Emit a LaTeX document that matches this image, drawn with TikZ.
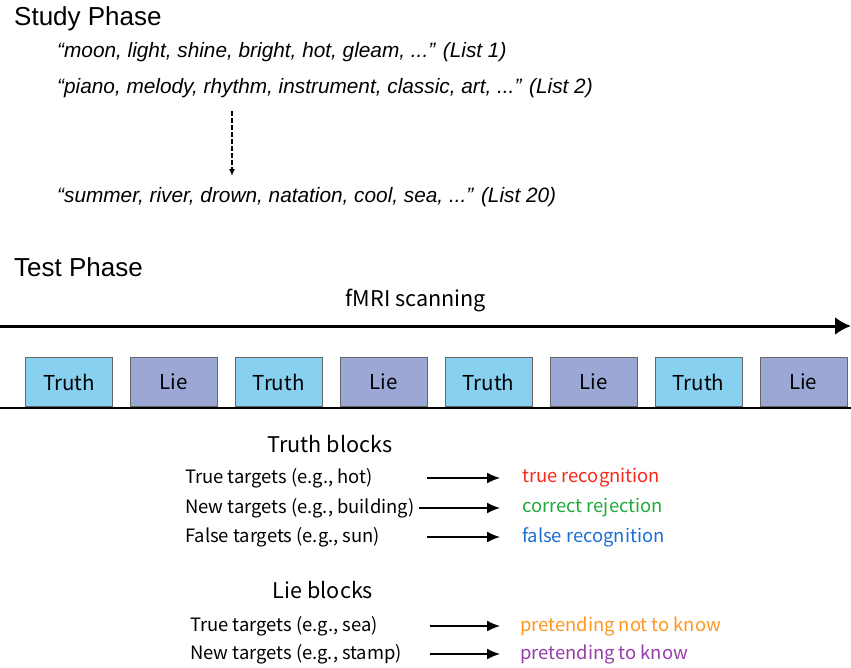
\documentclass[tikz,border=0pt]{standalone}
\usepackage{fontspec}
\setmainfont{Liberation Sans}
\newfontfamily\jpfont{Noto Sans CJK JP}
\usetikzlibrary{arrows.meta,positioning,matrix}
\definecolor{truthblue}{RGB}{135,208,240}
\definecolor{lieblue}{RGB}{155,168,214}
\definecolor{rtrue}{RGB}{250,40,25}
\definecolor{rcorrect}{RGB}{30,170,60}
\definecolor{rfalse}{RGB}{25,110,210}
\definecolor{rnot}{RGB}{255,150,30}
\definecolor{rknow}{RGB}{150,60,170}
\begin{document}
\begin{tikzpicture}[x=1pt,y=-1pt]
        \useasboundingbox (0,0) rectangle (851,667);
        \tikzstyle{every node}=[inner sep=0pt]
        \tikzstyle{head}=[anchor=west, font=\fontsize{26}{30}\selectfont]
        \tikzstyle{words}=[anchor=west, font=\fontsize{20.8}{24}\selectfont\itshape]
        \tikzstyle{lbl}=[anchor=west, font=\jpfont\fontsize{18.4}{22}\selectfont]
        \tikzstyle{title}=[anchor=center, font=\jpfont\fontsize{21.6}{25}\selectfont]
        \tikzstyle{block}=[draw=gray!80!black, minimum width=87pt, minimum height=49pt, font=\jpfont\fontsize{20.5}{24}\selectfont]
        \tikzstyle{flow}=[line width=1.5pt, -{Latex[length=13pt,width=11pt]}, shorten >=22pt]
        
        % study phase
        \node (study) [head] at (14,19) {Study Phase};
        \node (list1) [words] at (57,52) {“moon, light, shine, bright, hot, gleam, ...” (List 1)};
        \node (list2) [words] at (57,88) {“piano, melody, rhythm, instrument, classic, art, ...” (List 2)};
        \node (list20) [words] at (57,197) {“summer, river, drown, natation, cool, sea, ...” (List 20)};
        \coordinate (dtop) at (232,111);
        \coordinate (dend) at (232,176);
        \draw[dash pattern=on 4.5pt off 2.5pt, line width=1.4pt, -{Latex[length=7pt,width=6pt]}] (dtop) -- (dend);
        
        % test phase
        \node (test) [head] at (14,267) {Test Phase};
        \node (fmri) [title] at (416,300) {fMRI scanning};
        \coordinate (tstart) at (0,326);
        \coordinate (tend) at (851,326);
        \draw[line width=3pt, -{Latex[length=16pt,width=18pt]}] (tstart) -- (tend);
        
        \matrix (blocks) [draw=none, column sep=17.5pt, anchor=south west] at (25,407) {
            \node (b1) [block, fill=truthblue] {Truth}; &
            \node (b2) [block, fill=lieblue] {Lie}; &
            \node (b3) [block, fill=truthblue] {Truth}; &
            \node (b4) [block, fill=lieblue] {Lie}; &
            \node (b5) [block, fill=truthblue] {Truth}; &
            \node (b6) [block, fill=lieblue] {Lie}; &
            \node (b7) [block, fill=truthblue] {Truth}; &
            \node (b8) [block, fill=lieblue] {Lie}; \\
        };
        \coordinate (bstart) at (0,408);
        \coordinate (bend) at (851,408);
        \draw[line width=2.5pt] (bstart) -- (bend);
        
        % truth blocks
        \node (tb) [title] at (330,444) {Truth blocks};
        \node (t1) [lbl] at (185,478) {True targets (e.g., hot)};
        \node (t2) [lbl] at (185,508) {New targets (e.g., building)};
        \node (t3) [lbl] at (185,537) {False targets (e.g., sun)};
        \node (r1) [lbl, text=rtrue] at (522,478) {true recognition};
        \node (r2) [lbl, text=rcorrect] at (522,508) {correct rejection};
        \node (r3) [lbl, text=rfalse] at (522,537) {false recognition};
        \coordinate (s1) at (427,478);
        \coordinate (s2) at (419,508);
        \coordinate (s3) at (427,537);
        \draw[flow] (s1) -- (r1);
        \draw[flow] (s2) -- (r2);
        \draw[flow] (s3) -- (r3);
        
        % lie blocks
        \node (lb) [title] at (323,590) {Lie blocks};
        \node (t4) [lbl] at (190,626) {True targets (e.g., sea)};
        \node (t5) [lbl] at (190,654) {New targets (e.g., stamp)};
        \node (r4) [lbl, text=rnot] at (520,626) {pretending not to know};
        \node (r5) [lbl, text=rknow] at (520,654) {pretending to know};
        \coordinate (s4) at (430,626);
        \coordinate (s5) at (430,654);
        \draw[flow, shorten >=20pt] (s4) -- (r4);
        \draw[flow, shorten >=20pt] (s5) -- (r5);
        
    \end{tikzpicture}
\end{document}
